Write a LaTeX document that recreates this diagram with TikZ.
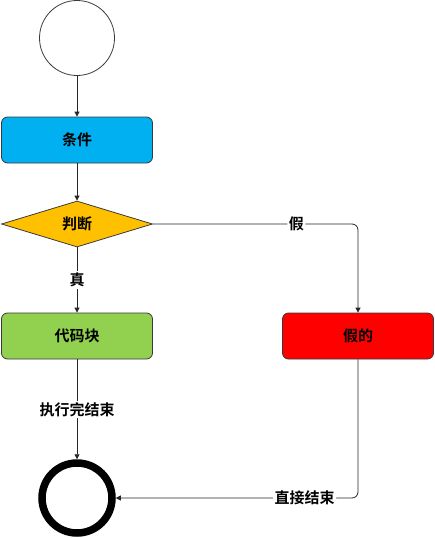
\documentclass[tikz,border=0pt]{standalone}
\usepackage{fontspec}
\newfontfamily\cjk{Noto Sans CJK SC}[BoldFont={* Bold}]
\usetikzlibrary{arrows.meta, positioning, shapes.geometric}
\definecolor{cblue}{HTML}{00B0F0}
\definecolor{cyellow}{HTML}{FFC000}
\definecolor{cgreen}{HTML}{92D050}
\definecolor{cred}{HTML}{FF0000}
\definecolor{cedge}{HTML}{3A3A3A}
\tikzset{
  every picture/.style={font=\cjk\bfseries\fontsize{15}{17}\selectfont, line width=0.8pt},
  box/.style={draw=cedge, fill=#1, rounded corners=6pt, minimum width=151pt, minimum height=46pt, inner sep=0pt},
  decide/.style={diamond, draw=cedge, fill=cyellow, aspect=3.28, minimum width=151pt, minimum height=46pt, inner sep=0pt},
  arrow/.style={-{Triangle[length=5pt, width=5pt]}, draw=black!85, line width=0.8pt},
  lbl/.style={fill=white, inner sep=1.5pt},
}

\begin{document}
\begin{tikzpicture}[x=1pt, y=-1pt]
\useasboundingbox (0,0) rectangle (435,538);
% nodes
\node[circle, draw=cedge, fill=white, minimum size=75pt, inner sep=0pt] (start) at (77,38) {};
\node[box=cblue] (cond) at (77,140) {条件};
\node[decide] (judge) at (77,224) {判断};
\node[box=cgreen] (code) at (77,336) {代码块};
\node[box=cred] (false) at (358,336) {假的};
\node[circle, draw=black, line width=7.5pt, fill=white, minimum size=70pt, inner sep=0pt] (stop) at (77,498) {};
% edges
\draw[arrow] (start) -- (cond);
\draw[arrow] (cond) -- (judge);
\draw[arrow] (judge) -- node[lbl] {真} (code);
\draw[arrow, rounded corners=6pt] (judge.east) -- node[lbl, pos=0.7] {假} (false.north |- judge.east) -- (false.north);
\draw[arrow] (code) -- node[lbl] {执行完结束} (stop);
\draw[arrow, rounded corners=6pt] (false.south) -- (false.south |- stop.east) -- node[lbl, pos=0.22] {直接结束} (stop.east);
\end{tikzpicture}
\end{document}
